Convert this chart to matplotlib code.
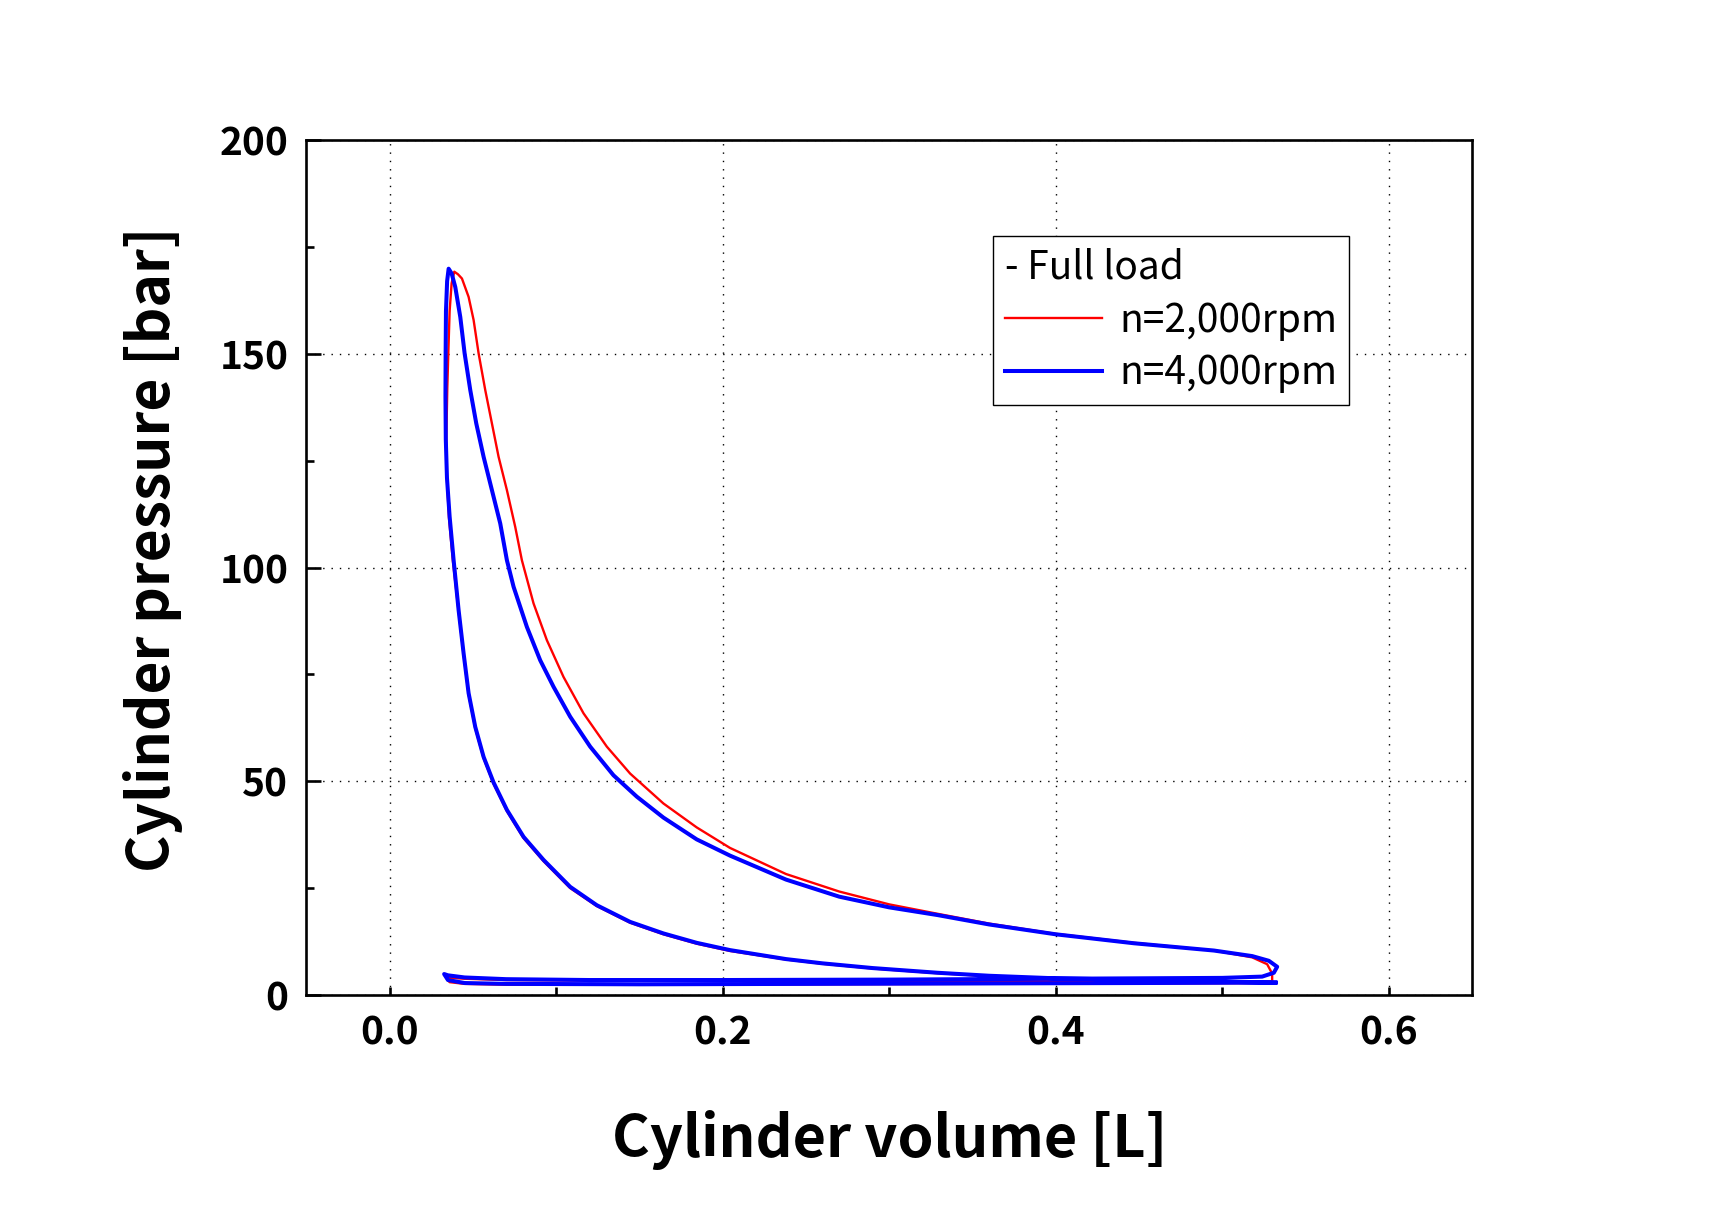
import numpy as np
from matplotlib import pyplot as plt
from matplotlib.ticker import MultipleLocator

plt.rcParams['font.family'] = ['Noto Sans CJK KR', 'DejaVu Sans']

# n = 2,000 rpm, one cycle: compression -> combustion -> expansion -> exhaust -> intake
v_2000 = [0.530, 0.50, 0.471, 0.44, 0.40, 0.36, 0.329, 0.29, 0.26, 0.238, 0.2044, 0.1844,
          0.1644, 0.1444, 0.1244, 0.1084, 0.0924, 0.0804, 0.0704, 0.0624, 0.0564, 0.0514,
          0.0474, 0.0444, 0.0414, 0.0380, 0.0356, 0.0342, 0.0340,
          0.0346, 0.0352, 0.0360, 0.0372, 0.0388,
          0.0410, 0.0434, 0.0474, 0.0504, 0.0534, 0.0574, 0.0614, 0.0654, 0.0704, 0.0754,
          0.0794, 0.0864, 0.0944, 0.1044, 0.1164, 0.1304, 0.1444, 0.1644, 0.1844, 0.2044,
          0.238, 0.270, 0.30, 0.329, 0.36, 0.40, 0.447, 0.495, 0.518, 0.527, 0.530, 0.530,
          0.50, 0.45, 0.40, 0.30, 0.20, 0.12, 0.07, 0.045, 0.037, 0.0338,
          0.036, 0.045, 0.07, 0.15, 0.25, 0.35, 0.45, 0.530]
p_2000 = [2.8, 3.0, 3.2, 3.5, 3.8, 4.4, 5.1, 6.2, 7.3, 8.3, 10.3, 12.0,
          14.2, 16.9, 20.8, 25.0, 31.3, 36.7, 43.0, 49.4, 55.4, 62.4,
          70.3, 79.6, 89.7, 101.4, 111.6, 122.0, 130.0,
          142.0, 150.0, 160.0, 166.5, 169.2,
          168.6, 167.6, 163.3, 157.9, 150.1, 141.5, 133.7, 125.9, 118.1, 109.5,
          101.7, 91.6, 83.0, 74.4, 65.9, 58.1, 51.8, 44.8, 39.2, 34.4,
          28.3, 24.2, 21.2, 19.0, 16.7, 14.3, 12.2, 10.4, 8.8, 7.2, 5.0, 3.2,
          3.0, 3.1, 3.2, 3.3, 3.3, 3.4, 3.5, 3.8, 4.0, 4.1,
          3.0, 2.6, 2.4, 2.4, 2.5, 2.6, 2.7, 2.8]

# n = 4,000 rpm
v_4000 = [0.532, 0.50, 0.471, 0.44, 0.40, 0.36, 0.329, 0.29, 0.26, 0.238, 0.2044, 0.1844,
          0.1644, 0.1444, 0.1244, 0.1084, 0.0924, 0.0804, 0.0704, 0.0624, 0.0564, 0.0514,
          0.0474, 0.0444, 0.0414, 0.0384, 0.0360, 0.0344, 0.0337,
          0.0335, 0.0336, 0.0338, 0.0345, 0.0354,
          0.0372, 0.0394, 0.0424, 0.0450, 0.0484, 0.0520, 0.0564, 0.0614, 0.0664, 0.0704,
          0.0744, 0.0824, 0.0904, 0.0984, 0.1084, 0.1204, 0.1344, 0.1484, 0.1644, 0.1844,
          0.2044, 0.238, 0.270, 0.30, 0.329, 0.36, 0.40, 0.447, 0.495, 0.518, 0.528, 0.533,
          0.531, 0.524,
          0.50, 0.45, 0.40, 0.30, 0.20, 0.12, 0.07, 0.045, 0.035, 0.0327,
          0.035, 0.045, 0.07, 0.15, 0.25, 0.35, 0.45, 0.532]
p_4000 = [2.9, 3.1, 3.3, 3.6, 3.9, 4.5, 5.2, 6.3, 7.4, 8.4, 10.5, 12.2,
          14.4, 17.1, 21.0, 25.3, 31.6, 37.0, 43.3, 49.7, 55.7, 62.7,
          70.6, 79.9, 90.0, 101.7, 111.9, 121.0, 130.0,
          140.0, 150.0, 160.0, 167.0, 169.9,
          168.8, 165.6, 158.6, 150.1, 141.5, 133.7, 125.9, 118.1, 110.3, 101.7,
          95.5, 86.1, 78.3, 72.1, 65.1, 58.1, 51.4, 46.4, 41.5, 36.4,
          32.6, 27.0, 23.0, 20.5, 18.7, 16.5, 14.2, 12.1, 10.4, 9.1, 8.0, 6.6,
          5.2, 4.3,
          4.0, 3.9, 3.8, 3.6, 3.5, 3.5, 3.7, 4.1, 4.6, 4.9,
          3.5, 2.8, 2.6, 2.5, 2.6, 2.7, 2.8, 2.9]

labels = ['n=2,000rpm', 'n=4,000rpm']
legend_title = '- Full load'

fig = plt.figure(figsize=(17.1, 12.24), dpi=100)
ax = fig.add_axes([0.1792, 0.1871, 0.6816, 0.6985])

ax.plot(v_2000, p_2000, c='#ff0000', lw=1.7, label=labels[0])
ax.plot(v_4000, p_4000, c='#0000ff', lw=2.9, label=labels[1])

ax.set_xlim(-0.05, 0.65)
ax.set_ylim(0, 200)
ax.xaxis.set_major_locator(MultipleLocator(0.2))
ax.xaxis.set_minor_locator(MultipleLocator(0.1))
ax.yaxis.set_major_locator(MultipleLocator(50))
ax.yaxis.set_minor_locator(MultipleLocator(25))
ax.set_xticklabels(['%.1f' % t for t in ax.get_xticks()])

ax.grid(True, which='major', color='black', lw=1.0, linestyle=(0, (1, 5)))

for s in ax.spines.values():
    s.set_linewidth(1.9)
ax.tick_params(axis='both', which='both', direction='in', width=1.9, labelsize=28, pad=13)
ax.tick_params(axis='x', which='both', length=6)
ax.tick_params(axis='y', which='major', length=11)
ax.tick_params(axis='y', which='minor', length=6)
for lb in ax.get_xticklabels() + ax.get_yticklabels():
    lb.set_fontweight('bold')

ax.set_xlabel('Cylinder volume [L]', fontsize=41.5, fontweight='bold', labelpad=42)
ax.set_ylabel('Cylinder pressure [bar]', fontsize=41, fontweight='bold', labelpad=26)
ax.yaxis.label.set_y(0.521)

leg = ax.legend(loc='upper right', bbox_to_anchor=(0.8945, 0.8877), borderaxespad=0,
                fontsize=28, title=legend_title, title_fontsize=28, alignment='left',
                fancybox=False, edgecolor='black', framealpha=1, handlelength=2.5,
                borderpad=0.3, labelspacing=0.33, handletextpad=0.45)
leg.get_frame().set_linewidth(1.0)

plt.savefig('out.png', dpi=100)
